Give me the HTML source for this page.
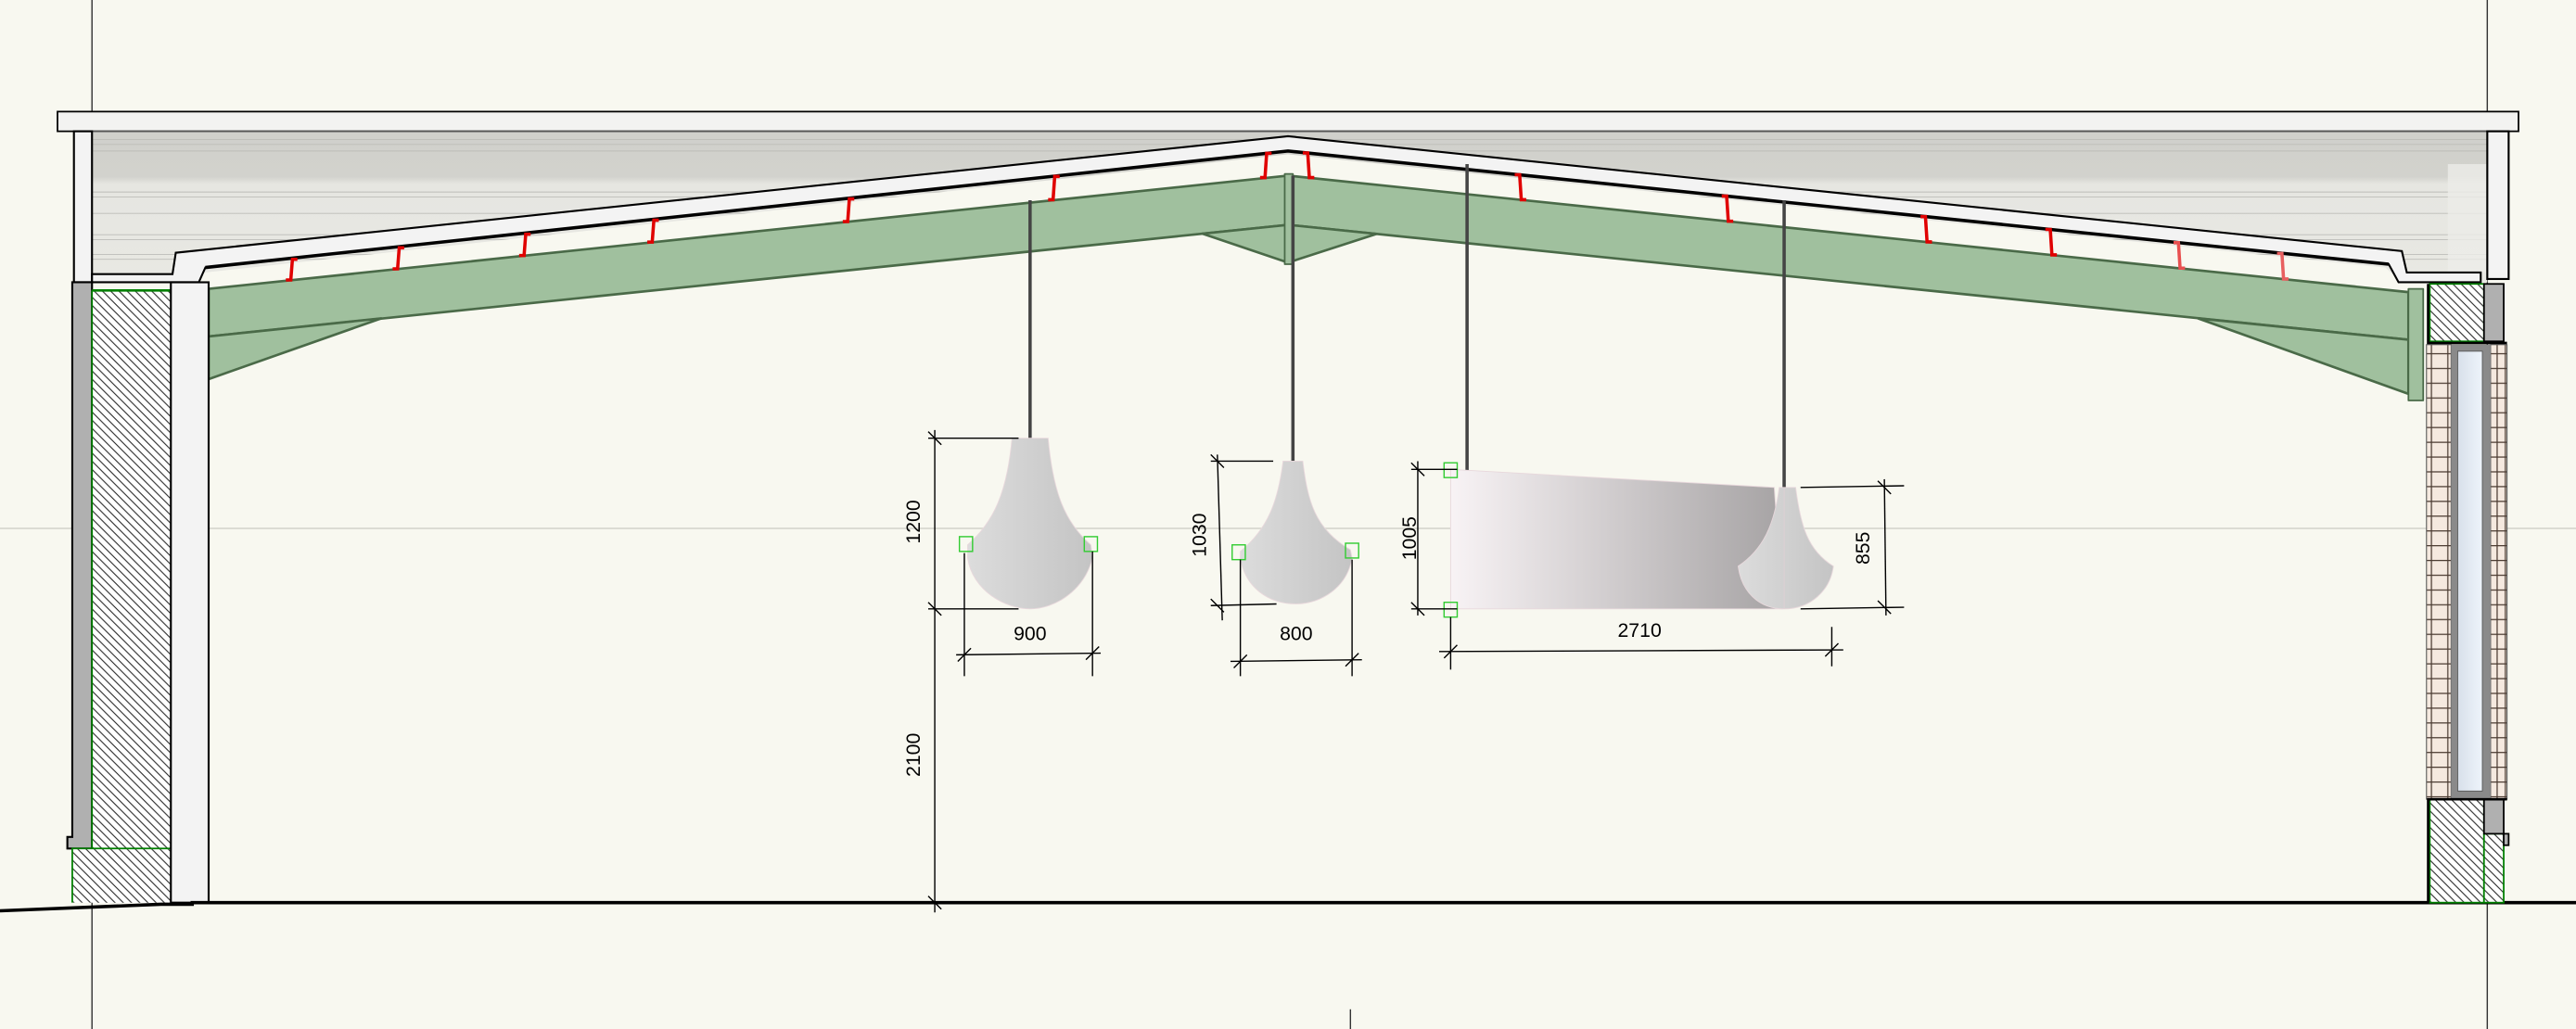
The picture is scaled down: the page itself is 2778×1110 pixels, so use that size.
<!DOCTYPE html>
<html><head><meta charset="utf-8"><style>
html,body{margin:0;padding:0;background:#f8f8f0;}
svg{display:block;}
text{font-family:"Liberation Sans",sans-serif;font-size:12px;fill:#000;}
</style></head><body>
<svg width="2778" height="1110" viewBox="0 0 1568 627" preserveAspectRatio="none" xmlns="http://www.w3.org/2000/svg">
<defs>
<pattern id="h" width="5" height="5" patternUnits="userSpaceOnUse">
<rect width="5" height="5" fill="#fff"/>
<path d="M-1,-1 L6,6 M-1,4 L1,6 M4,-1 L6,1" stroke="#222" stroke-width="0.6"/>
</pattern>
<pattern id="brick" width="15" height="9" patternUnits="userSpaceOnUse">
<rect width="15" height="9" fill="#f5e9df"/>
<path d="M0,8.5 H15 M5,0 V9 M10,0 V9" stroke="#4a3a30" stroke-width="0.7"/>
</pattern>
<linearGradient id="gb" x1="0" y1="0" x2="0" y2="1">
<stop offset="0" stop-color="#d0d0cb"/><stop offset="0.3" stop-color="#d2d2cd"/><stop offset="0.35" stop-color="#e6e6e1"/><stop offset="1" stop-color="#e8e8e3"/>
</linearGradient>
<linearGradient id="lg" x1="0" y1="0" x2="1" y2="0">
<stop offset="0" stop-color="#dcdcdc"/><stop offset="1" stop-color="#c4c4c4"/>
</linearGradient>
<linearGradient id="rg" x1="0" y1="0" x2="1" y2="0">
<stop offset="0" stop-color="#f8f3f5"/><stop offset="1" stop-color="#a6a3a4"/>
</linearGradient>
<linearGradient id="glass" x1="0" y1="0" x2="1" y2="0">
<stop offset="0" stop-color="#d8e0ea"/><stop offset="1" stop-color="#eef4fb"/>
</linearGradient>
</defs>
<rect width="1568" height="627" fill="#f8f8f0"/>
<line x1="0" y1="322" x2="1568" y2="322" stroke="#d8d8d0" stroke-width="1"/>
<line x1="56" y1="0" x2="56" y2="627" stroke="#333" stroke-width="0.8"/>
<line x1="1514" y1="0" x2="1514" y2="627" stroke="#333" stroke-width="0.8"/>
<line x1="822" y1="615" x2="822" y2="627" stroke="#333" stroke-width="0.8"/>
<rect x="56" y="80" width="1458" height="92" fill="url(#gb)"/>
<g stroke="#bdbdb8" stroke-width="0.5">
<line x1="56" y1="85" x2="1514" y2="85"/><line x1="56" y1="88" x2="1514" y2="88"/>
<line x1="56" y1="92" x2="1514" y2="92"/><line x1="56" y1="117" x2="1514" y2="117"/>
<line x1="56" y1="120" x2="1514" y2="120"/><line x1="56" y1="130" x2="1514" y2="130"/>
<line x1="56" y1="143" x2="1514" y2="143"/><line x1="56" y1="146" x2="1514" y2="146"/>
<line x1="56" y1="155" x2="1514" y2="155"/><line x1="56" y1="158" x2="1514" y2="158"/>
</g>
<rect x="1490" y="100" width="24" height="66" fill="#ecece8" opacity="0.8"/>
<rect x="35" y="68" width="1498" height="12" fill="#f3f3f1" stroke="#000" stroke-width="1"/>
<line x1="56" y1="80" x2="1514" y2="80" stroke="#555" stroke-width="1"/>
<rect x="45" y="80" width="11" height="92" fill="#f3f3f3" stroke="#000" stroke-width="1.2"/>
<rect x="1514" y="80" width="13" height="90" fill="#f3f3f3" stroke="#000" stroke-width="1.2"/>
<path d="M56,172 L104,172 L108,168 L125,166 L784,94 L1452,163 L1462,172 L1477,172 L1477,300 L127,300 Z" fill="#f8f8f0"/>
<path d="M56,167 L105,167 L107,154 L784,83 L1462,153 L1465,166 L1510,166 L1510,172 L1460,172 L1454,161 L784,92 L125,163 L121,172 L56,172 Z" fill="#f3f3f3" stroke="#000" stroke-width="1.2"/>
<path d="M125,163 L784,92 L1454,161" fill="none" stroke="#000" stroke-width="2"/>
<g fill="#a0c09e" stroke="#4a6a48" stroke-width="1.5" stroke-linejoin="round">
<path d="M127,176 L784,107 L784,137 L127,205 Z"/>
<path d="M127,205 L232,194 L127,231 Z"/>
<path d="M732,142.4 L784,137 L784,160 Z"/>
<path d="M784,107 L1466,178 L1466,207 L784,137 Z"/>
<path d="M784,137 L838,142.5 L784,160 Z"/>
<path d="M1338,194 L1466,207 L1466,240 Z"/>
<rect x="1466" y="176" width="9" height="68" stroke-width="1"/>
<rect x="782" y="106" width="5" height="55" stroke-width="1"/>
</g>
<g fill="none" stroke="#e00000" stroke-width="2">
<path d="M181,158 H178 L177,170.6 H174"/>
<path d="M246,151 H243 L242,163.8 H239"/>
<path d="M323,142.7 H320 L319,155.7 H316"/>
<path d="M401,134.2 H398 L397,147.5 H394"/>
<path d="M520,121.2 H517 L516,135 H513"/>
<path d="M645,107.5 H642 L641,121.7 H638"/>
<path d="M774,93.4 H771 L770,108.2 H767"/>
<path d="M793,93.2 H796 L797,108.2 H800"/>
<path d="M922,106.5 H925 L926,121.7 H929"/>
<path d="M1048,119.5 H1051 L1052,134.8 H1055"/>
<path d="M1169,132 H1172 L1173,147.4 H1176"/>
<path d="M1245,139.8 H1248 L1249,155.3 H1252"/>
<path d="M1323,147.9 H1326 L1327,163.4 H1330" stroke="#e85050"/>
<path d="M1386,154.4 H1389 L1390,170 H1393" stroke="#e86060"/>
</g>
<path d="M44,172 H56 V517 H41 V510 H44 Z" fill="#b0b0b0" stroke="#000" stroke-width="1.2"/>
<rect x="56" y="177" width="48" height="373" fill="url(#h)"/>
<rect x="44" y="517" width="60" height="33" fill="url(#h)"/>
<line x1="56" y1="177" x2="104" y2="177" stroke="#008000" stroke-width="1.5"/>
<path d="M44,550 L44,517 L104,517" fill="none" stroke="#008000" stroke-width="1"/>
<line x1="56" y1="177" x2="56" y2="517" stroke="#008000" stroke-width="1"/>
<rect x="104" y="172" width="23" height="378" fill="#f3f3f3" stroke="#000" stroke-width="1.2"/>
<path d="M0,555 L98,551 L117,551 L117,550 L1568,550" fill="none" stroke="#000" stroke-width="2"/>
<rect x="1479" y="173" width="33" height="35" fill="url(#h)" stroke="#008000" stroke-width="1"/>
<rect x="1512" y="173" width="12" height="35" fill="#b0b0b0" stroke="#000" stroke-width="1"/>
<path d="M1478,173 V209 H1526" fill="none" stroke="#000" stroke-width="1.5"/>
<rect x="1477" y="210" width="15" height="277" fill="url(#brick)" stroke="#555" stroke-width="0.6"/>
<rect x="1516" y="210" width="10" height="277" fill="url(#brick)" stroke="#555" stroke-width="0.6"/>
<rect x="1492" y="210" width="24" height="277" fill="#8a8a8a"/>
<rect x="1496" y="214" width="15" height="268" fill="url(#glass)" stroke="#555" stroke-width="0.5"/>
<rect x="1479" y="487" width="33" height="63" fill="url(#h)" stroke="#008000" stroke-width="1"/>
<rect x="1512" y="508" width="12" height="42" fill="url(#h)" stroke="#008000" stroke-width="1"/>
<path d="M1512,487 H1524 V515 H1527 V508 H1512 Z" fill="#b0b0b0" stroke="#000" stroke-width="1"/>
<path d="M1478,550 V487 H1526" fill="none" stroke="#000" stroke-width="1.5"/>
<g stroke="#444" stroke-width="2">
<line x1="627" y1="122" x2="627" y2="268"/>
<line x1="787" y1="107" x2="787" y2="282"/>
<line x1="893" y1="100" x2="893" y2="287"/>
<line x1="1086" y1="122" x2="1086" y2="298"/>
</g>
<path d="M616,267 L638,267 C641,300 648,318 664,332 L665,340 C660,360 642,371 627,371 C612,371 592,360 589,340 L589,332 C605,318 613,300 616,267 Z" fill="url(#lg)" stroke="#e8d8dc" stroke-width="0.5"/>
<path d="M781,281 L793,281 C796,305 800,322 822,335 L823,340 C820,358 804,368 789,368 C772,368 758,358 755,340 L755,336 C772,322 778,305 781,281 Z" fill="url(#lg)" stroke="#e8d8dc" stroke-width="0.5"/>
<path d="M883,286 L1080,297 L1085,371 L883,371 Z" fill="url(#rg)" stroke="#e8d8dc" stroke-width="0.5"/>
<path d="M1083,297 L1093,297 C1096,320 1100,335 1116,345 C1114,360 1102,371 1086,371 C1070,371 1060,360 1058,345 C1073,335 1080,320 1083,297 Z" fill="url(#lg)" stroke="#e8d8dc" stroke-width="0.5"/>
<line x1="1086" y1="297" x2="1086" y2="371" stroke="#e0d0d4" stroke-width="0.5"/>
<g fill="none" stroke="#33cc33" stroke-width="0.8">
<rect x="584" y="327" width="8" height="9"/><rect x="660" y="327" width="8" height="9"/>
<rect x="750" y="332" width="8" height="9"/><rect x="819" y="331" width="8" height="9"/>
<rect x="879" y="282" width="8" height="9"/><rect x="879" y="367" width="8" height="9"/>
</g>
<g stroke="#000" stroke-width="0.8" fill="none">
<line x1="569" y1="262" x2="569" y2="556"/>
<line x1="565" y1="267" x2="620" y2="267"/><line x1="565" y1="371" x2="620" y2="371"/>
<path d="M565,263 L573,271 M565,367 L573,375 M565,546 L573,554"/>
<line x1="587" y1="337" x2="587" y2="412"/><line x1="665" y1="336" x2="665" y2="412"/>
<line x1="582" y1="399" x2="670" y2="398"/>
<path d="M583,403 L591,395 M661,402 L669,394"/>
<line x1="741" y1="277" x2="744" y2="378"/>
<line x1="737" y1="281" x2="775" y2="281"/><line x1="737" y1="369" x2="777" y2="368"/>
<path d="M737,277 L745,285 M737,365 L745,373"/>
<line x1="755" y1="341" x2="755" y2="412"/><line x1="823" y1="341" x2="823" y2="412"/>
<line x1="749" y1="403" x2="829" y2="402"/>
<path d="M751,407 L759,399 M819,406 L827,398"/>
<line x1="863" y1="281" x2="863" y2="375"/>
<line x1="859" y1="286" x2="887" y2="286"/><line x1="859" y1="371" x2="887" y2="371"/>
<path d="M859,282 L867,290 M859,367 L867,375"/>
<line x1="1147" y1="292" x2="1148" y2="375"/>
<line x1="1096" y1="297" x2="1159" y2="296"/><line x1="1096" y1="371" x2="1159" y2="370"/>
<path d="M1143,293 L1151,301 M1143,366 L1151,374"/>
<line x1="883" y1="376" x2="883" y2="408"/><line x1="1115" y1="382" x2="1115" y2="406"/>
<line x1="876" y1="397" x2="1122" y2="396"/>
<path d="M879,401 L887,393 M1111,400 L1119,392"/>
</g>
<g>
<text x="0" y="0" transform="translate(560,318) rotate(-90)" text-anchor="middle">1200</text>
<text x="0" y="0" transform="translate(560,460) rotate(-90)" text-anchor="middle">2100</text>
<text x="0" y="0" transform="translate(734,326) rotate(-90)" text-anchor="middle">1030</text>
<text x="0" y="0" transform="translate(862,328) rotate(-90)" text-anchor="middle">1005</text>
<text x="0" y="0" transform="translate(1138,334) rotate(-90)" text-anchor="middle">855</text>
<text x="627" y="390" text-anchor="middle">900</text>
<text x="789" y="390" text-anchor="middle">800</text>
<text x="998" y="388" text-anchor="middle">2710</text>
</g>
</svg>
</body></html>
